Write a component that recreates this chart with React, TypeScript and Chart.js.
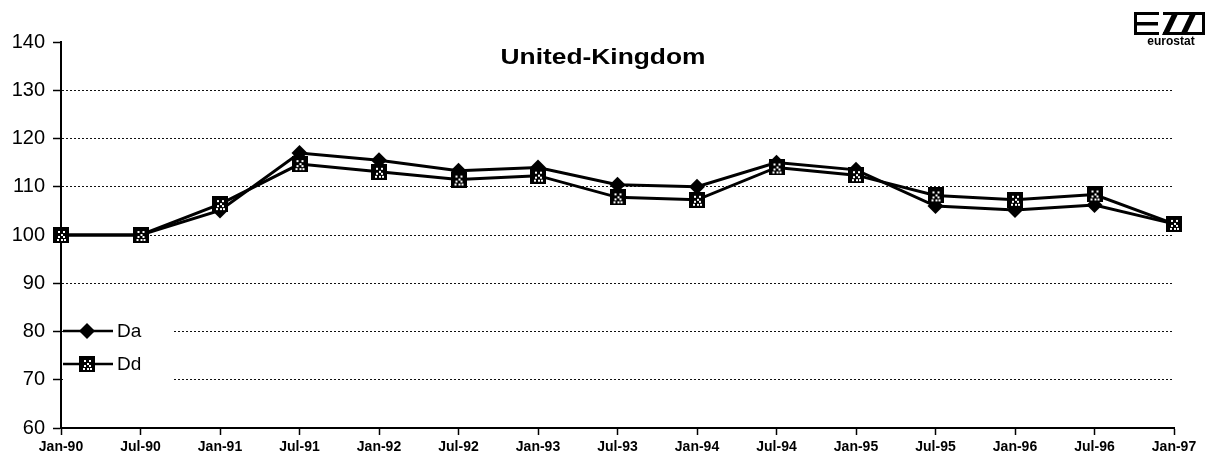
import React, { useEffect, useRef } from "react";
import { Chart, registerables } from "chart.js";

Chart.register(...registerables);

const categories = [
  "Jan-90", "Jul-90", "Jan-91", "Jul-91", "Jan-92", "Jul-92", "Jan-93", "Jul-93",
  "Jan-94", "Jul-94", "Jan-95", "Jul-95", "Jan-96", "Jul-96", "Jan-97",
];
const daValues = [100, 100, 105.1, 117, 115.5, 113.3, 114, 110.4, 110, 115, 113.5, 106, 105.2, 106.2, 102.3];
const ddValues = [100, 100, 106.4, 114.7, 113.1, 111.5, 112.3, 107.8, 107.3, 114, 112.4, 108.2, 107.3, 108.4, 102.3];
const yTicks = [60, 70, 80, 90, 100, 110, 120, 130, 140];
const seriesNames = ["Da", "Dd"];
const titleText = "United-Kingdom";
const logoText = "eurostat";

function makeDdMarker(size: number): HTMLCanvasElement {
  const c = document.createElement("canvas");
  c.width = size;
  c.height = size;
  const g = c.getContext("2d")!;
  g.fillStyle = "#000";
  g.fillRect(0, 0, size, size);
  g.fillStyle = "#fff";
  const s = size / 16;
  const dots = [
    [5, 4], [10, 4], [7.5, 6.5], [5, 9], [10, 9], [7.5, 11.5], [4, 12], [11, 12],
  ];
  dots.forEach(([x, y]) => g.fillRect(Math.round(x * s), Math.round(y * s), Math.max(1, Math.round(1.6 * s)), Math.max(1, Math.round(1.6 * s))));
  return c;
}

export default function App() {
  const ref = useRef<HTMLCanvasElement | null>(null);

  useEffect(() => {
    if (!ref.current) return;
    const ddMarker = makeDdMarker(16);

    const decor = {
      id: "decor",
      afterDraw(chart: any) {
        const ctx = chart.ctx as CanvasRenderingContext2D;
        ctx.save();
        // title (stretched horizontally like the scan)
        ctx.font = "bold 22px Arial, 'Liberation Sans', sans-serif";
        ctx.fillStyle = "#000";
        ctx.textAlign = "center";
        ctx.textBaseline = "middle";
        const w = ctx.measureText(titleText).width;
        ctx.save();
        ctx.translate(603, 58);
        ctx.scale(205 / w, 1);
        ctx.fillText(titleText, 0, 0);
        ctx.restore();

        // legend
        ctx.fillStyle = "#fff";
        ctx.fillRect(63, 316, 110, 66);
        const rows = [331, 364];
        rows.forEach((y, i) => {
          ctx.strokeStyle = "#000";
          ctx.lineWidth = 2.5;
          ctx.beginPath();
          ctx.moveTo(63, y);
          ctx.lineTo(113, y);
          ctx.stroke();
          if (i === 0) {
            ctx.fillStyle = "#000";
            ctx.beginPath();
            ctx.moveTo(87, y - 8);
            ctx.lineTo(95, y);
            ctx.lineTo(87, y + 8);
            ctx.lineTo(79, y);
            ctx.closePath();
            ctx.fill();
          } else {
            ctx.drawImage(ddMarker, 79, y - 8);
          }
          ctx.fillStyle = "#000";
          ctx.font = "19px Arial, 'Liberation Sans', sans-serif";
          ctx.textAlign = "left";
          ctx.textBaseline = "middle";
          ctx.fillText(seriesNames[i], 117, y + 1);
        });

        // eurostat logo
        ctx.strokeStyle = "#000";
        ctx.fillStyle = "#000";
        ctx.lineWidth = 3;
        ctx.strokeRect(1135.5, 13.5, 68, 20);
        ctx.fillRect(1137, 22, 21, 3.5);
        ctx.fillStyle = "#fff";
        ctx.fillRect(1159, 11, 4, 26);
        ctx.fillStyle = "#000";
        ctx.beginPath();
        ctx.moveTo(1162, 35);
        ctx.lineTo(1168, 35);
        ctx.lineTo(1179, 12);
        ctx.lineTo(1173, 12);
        ctx.closePath();
        ctx.fill();
        ctx.beginPath();
        ctx.moveTo(1180, 35);
        ctx.lineTo(1186, 35);
        ctx.lineTo(1197, 12);
        ctx.lineTo(1191, 12);
        ctx.closePath();
        ctx.fill();
        ctx.font = "bold 12px Arial, 'Liberation Sans', sans-serif";
        ctx.textAlign = "center";
        ctx.textBaseline = "middle";
        ctx.fillText(logoText, 1171, 42);
        ctx.restore();
      },
    };

    const chart = new Chart(ref.current, {
      type: "line",
      data: {
        labels: categories,
        datasets: [
          {
            label: seriesNames[0],
            data: daValues,
            borderColor: "#000",
            backgroundColor: "#000",
            borderWidth: 3,
            pointStyle: "rectRot",
            pointRadius: 8,
            pointBorderWidth: 0,
            tension: 0,
            order: 2,
          },
          {
            label: seriesNames[1],
            data: ddValues,
            borderColor: "#000",
            backgroundColor: "#000",
            borderWidth: 3,
            pointStyle: ddMarker as any,
            pointRadius: 8,
            tension: 0,
            order: 1,
          },
        ],
      },
      options: {
        responsive: false,
        animation: false,
        devicePixelRatio: 1,
        layout: { padding: { left: 0, right: 37, top: 42, bottom: 0 } },
        plugins: {
          legend: { display: false },
          title: { display: false },
          tooltip: { enabled: false },
        },
        scales: {
          x: {
            type: "category",
            offset: false,
            grid: {
              drawOnChartArea: false,
              drawTicks: true,
              tickLength: 7,
              tickColor: "#000",
              tickWidth: 1.5,
            },
            border: { display: true, color: "#000", width: 2 },
            ticks: {
              color: "#000",
              font: { family: "Arial, 'Liberation Sans', sans-serif", size: 14, weight: "bold" },
              padding: 4,
              maxRotation: 0,
              autoSkip: false,
            },
            afterFit(scale: any) {
              scale.height = 32;
            },
          },
          y: {
            min: 60,
            max: 140,
            afterBuildTicks(scale: any) {
              scale.ticks = yTicks.map((v) => ({ value: v }));
            },
            grid: {
              color: (c: any) =>
                c.tick && (c.tick.value === 140 || c.tick.value === 60) ? "rgba(0,0,0,0)" : "#111",
              lineWidth: 1,
              drawTicks: true,
              tickLength: 8,
              tickColor: "#000",
              tickWidth: 1.5,
            },
            border: { display: true, color: "#000", width: 2, dash: [2, 2] },
            ticks: {
              color: "#000",
              font: { family: "Arial, 'Liberation Sans', sans-serif", size: 20 },
              padding: 8,
            },
            afterFit(scale: any) {
              scale.width = 61;
            },
          },
        },
      },
      plugins: [decor],
    });

    return () => chart.destroy();
  }, []);

  return (
    <div style={{ position: "absolute", left: 0, top: 0, width: 1211, height: 460, background: "#fff" }}>
      <canvas ref={ref} width={1211} height={460} style={{ display: "block", width: 1211, height: 460 }} />
    </div>
  );
}
